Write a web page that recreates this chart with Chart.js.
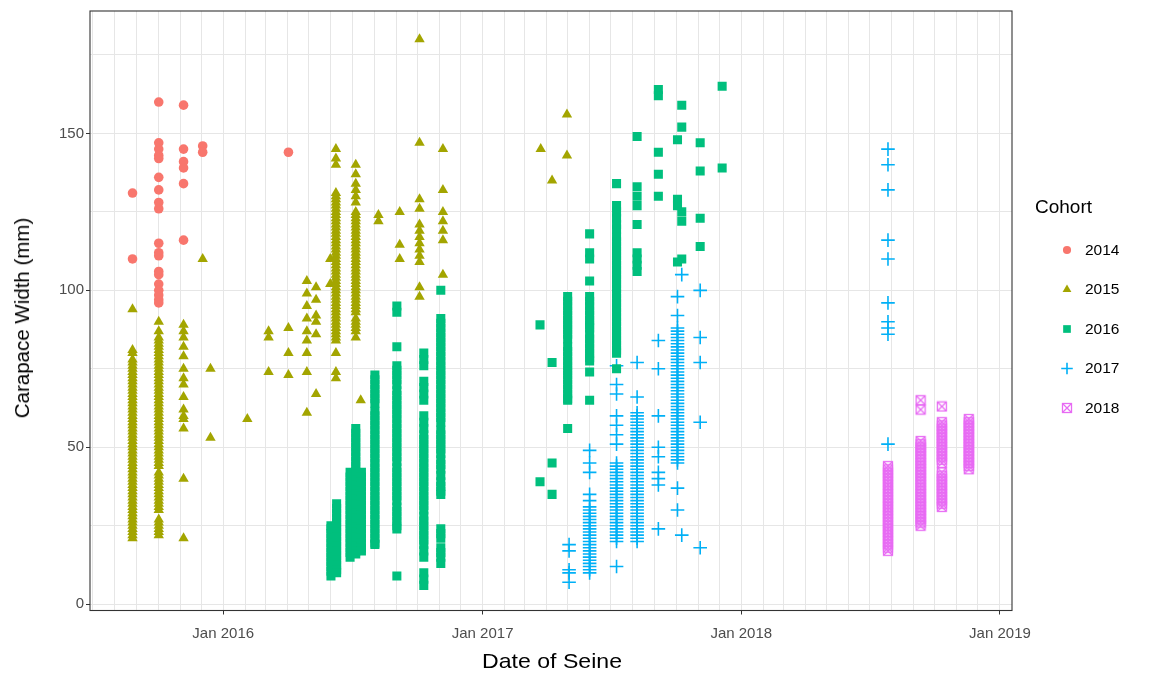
<!DOCTYPE html>
<html>
<head>
<meta charset="utf-8">
<script src="https://cdn.jsdelivr.net/npm/chart.js@4.4.0/dist/chart.umd.min.js"></script>
<style>
html,body{margin:0;padding:0;background:#ffffff;}
#wrap{position:relative;width:1157px;height:681px;font-family:"Liberation Sans",Arial,sans-serif;}
#c{position:absolute;left:0;top:0;}
#ytitle{position:absolute;left:22px;top:318px;transform:translate(-50%,-50%) rotate(-90deg);white-space:nowrap;font-size:20.5px;color:#000;}
#xtitle{position:absolute;left:552px;top:661px;transform:translate(-50%,-50%) scaleX(1.1);white-space:nowrap;font-size:21px;color:#000;}
</style>
</head>
<body>
<div id="wrap">
<canvas id="c" width="1157" height="681"></canvas>
<div id="ytitle">Carapace Width (mm)</div>
<div id="xtitle">Date of Seine</div>
</div>
<script>
// ---------------- DATA ----------------
const cohortNames = ['2014','2015','2016','2017','2018'];

const dates2014 = ['2015-08-26','2015-10-02','2015-11-06','2015-12-03','2016-04-02'];
const widths2014 = [
  [131,110],
  [160,147,145,143,142,136,132,128,126,115,112,111,106,105,102,100,98.5,97,96],
  [159,145,141,139,134,116],
  [146,144],
  [144]
];

const dates2015 = ['2015-08-26','2015-10-02','2015-11-06','2015-12-03','2015-12-14','2016-02-04','2016-03-05','2016-04-02','2016-04-28','2016-05-11','2016-05-31','2016-06-08','2016-07-06','2016-07-13','2016-08-07','2016-09-06','2016-10-04','2016-11-06','2017-03-24','2017-04-09','2017-04-30'];
const widths2015 = [
  [94,81,80,78,77,76,75,74,73,72,71,70,69,68,67,66,65,64,63,62,61,60,59,58,57,56,55,54,53,52,51,50,49,48,47,46,45,44,43,42,41,40,39,38,37,36,35,34,33,32,31,30,29,28,27,26,25,24,23,22,21],
  [90,87,85,84,83,82,81,80,79,78,77,76,75,74,73,72,71,70,69,68,67,66,65,64,63,62,61,60,59,58,57,56,55,54,53,52,51,50,49,48,47,46,45,44,42,41,40,39,38,37,36,35,34,33,32,31,30,27,26,25,24,23,22],
  [89,87,85,82,79,75,72,70,66,62,60,59,56,40,21],
  [110],
  [75,53],
  [59],
  [87,85,74],
  [88,80,73],
  [103,99,95,91,87,84,80,74,61],
  [101,97,92,90,86,67],
  [110,102],
  [145,142,140,131,130,129,128,127,126,125,124,123,122,121,120,119,118,117,116,115,114,113,112,111,110,109,108,107,106,105,104,103,102,101,100,99,98,97,96,95,94,93,92,91,90,89,88,87,86,85,84,80,74,72],
  [140,137,134,132,130,128,125,124,123,122,121,120,119,118,117,116,115,114,113,112,111,110,109,108,107,106,105,104,103,102,101,100,99,98,97,96,95,94,93,91,90,89,88,87,85],
  [65],
  [124,122],
  [125,114.5,110],
  [180,147,129,126,121,119,117,115,113,111,109,101,98],
  [145,132,125,122,119,116,105],
  [145],
  [135],
  [156,143]
];

const dates2016 = ['2016-06-01','2016-06-09','2016-06-28','2016-07-06','2016-07-14','2016-08-02','2016-09-02','2016-10-10','2016-11-03','2017-03-23','2017-04-09','2017-05-01','2017-06-01','2017-07-09','2017-08-07','2017-09-06','2017-10-03','2017-10-09','2017-11-04','2017-12-05'];
const widths2016 = [
  [25,24,22.5,21,19.5,18,16.5,15,13.5,12,10.5,9],
  [32,30.5,29,27.5,26,24.5,23,21.5,20,18.5,17,15.5,14,12.5,11,10],
  [42,40.5,39,37.5,36,34.5,33,31.5,30,28.5,27,25.5,24,22.5,21,19.5,18,16.5,15],
  [56,54.5,53,51.5,50,48.5,47,45.5,44,42.5,41,39.5,38,36.5,35,33.5,32,30.5,29,27.5,26,24.5,23,21.5,20,18.5,17,16],
  [42,40.5,39,37.5,36,34.5,33,31.5,30,28.5,27,25.5,24,22.5,21,19.5,18,17],
  [73,71.5,70,68.5,67,65.5,64,61.5,60,58.5,57,55.5,54,52.5,51,49.5,48,46.5,45,43.5,42,40.5,39,37.5,36,34.5,33,31.5,30,28.5,27,25.5,24,22.5,21,19.5,19],
  [95,93,82,76,74.5,73,71.5,70,68,66.5,65,63.5,62,60.5,59,57.5,56,54.5,53,51.5,50,48.5,47,45.5,43.5,42,40.5,39,37.5,36,34.5,33,31,29.5,28,26.5,25,24,9],
  [80,78,76,71,69,67,65,60,58,56,54,52.5,51,49.5,48,46.5,45,43.5,42,40.5,39,37.5,36,34.5,33,31.5,30,28,26.5,25,23.5,22,20.5,19,17,15,10,8,6],
  [100,91,89.5,88,86.5,85,83.5,82,80.5,79,77.5,76,74.5,73,71.5,70,68.5,67,65.5,64,62.5,61,59.5,58,55.5,54,52.5,51,49.5,48,46,44.5,43,41,39,37.5,36,35,24,22.5,21,18,16.5,15,13],
  [89,39],
  [77,45,35],
  [98,96.5,95,93.5,92,90.5,89,87.5,86,84.5,82,80.5,79,77.5,76,74.5,73,71.5,70,68.5,67,65.5,65,56],
  [118,112,110,103,98,96.5,95,93.5,92,90.5,89,88,86,84.5,83,81.5,80,78.5,77.5,74,65],
  [134,127,125,123,121,119.5,117,115.5,114,112.5,111,109.5,108,106.5,105,103.5,102,100.5,99,97.5,96,94.5,93,91.5,90,88.5,87,85.5,84,82.5,81,80,75],
  [149,133,130,127,121,112,110,108,106],
  [164,162,144,137,130],
  [148,129,127,109],
  [159,152,125,122,110],
  [147,138,123,114],
  [165,139]
];

const dates2017 = ['2017-05-03','2017-06-01','2017-07-09','2017-08-07','2017-09-06','2017-10-03','2017-10-09','2017-11-04','2018-07-27'];
const widths2017 = [
  [19,17,11,10,7],
  [49,45,42,35,33,31,30,29,28,27,26,25,24,23,22,21,20,19,18,17,16,15,14,13,12,11,10],
  [76,70,67,60,57,54,51,45,44,43,42,41,40,39,38,37,36,35,34,33,32,31,30,29,28,27,26,25,24,23,22,21,20,12],
  [77,66,61,60,59,58,57,56,55,54,53,52,51,50,49,48,47,46,45,44,43,42,41,40,39,38,37,36,35,34,33,32,31,30,29,28,27,26,25,24,23,22,21,20],
  [84,75,60,50,47,42,40,38,24],
  [98,92,88,87,86,85,84,83,82,81,80,79,78,77,76,75,74,73,72,71,70,69,68,67,66,65,64,63,62,61,60,59,58,57,56,55,54,53,52,51,50,49,48,47,46,45,37,30],
  [105,22],
  [100,85,77,58,18],
  [145,140,132,116,110,96,90,88,86,51]
];

const dates2018 = ['2018-07-27','2018-09-11','2018-10-11','2018-11-18'];
const widths2018 = [
  [44,43,42,41,40,39,38,37,36,35,34,33,32,31,30,29,28,27,26,25,24,23,22,21,20,19,18,17],
  [65,62,52,51,50,49,48,47,46,45,44,43,42,41,40,39,38,37,36,35,34,33,32,31,30,29,28,27,26,25],
  [63,58,57,56,55,54,53,52,51,50,49,48,47,46,45,42,41,40,39,38,37,36,35,34,33,32,31],
  [59,58,57,56,55,54,53,52,51,50,49,48,47,46,45,44,43]
];

const xTickDates  = ['2016-01-01','2017-01-01','2018-01-01','2019-01-01'];
const xTickLabels = ['Jan 2016','Jan 2017','Jan 2018','Jan 2019'];
const yTickValues = [0,50,100,150];
const yTickLabels = ['0','50','100','150'];
const xRange = ['2015-06-27','2019-01-18'];
const yRange = [-2,189];

// ---------------- BUILD ----------------
const FONT = '"Liberation Sans", Arial, sans-serif';
const t = s => Date.parse(s);

function toPoints(dates, widths){
  const pts = [];
  dates.forEach((d,i)=>widths[i].forEach(w=>pts.push({x:t(d), y:w})));
  return pts;
}

function boxCross(color){
  const c = document.createElement('canvas');
  c.width = 12; c.height = 12;
  const g = c.getContext('2d');
  g.strokeStyle = color; g.lineWidth = 1.3;
  g.strokeRect(1.5,1.5,9,9);
  g.beginPath();
  g.moveTo(1.5,1.5); g.lineTo(10.5,10.5);
  g.moveTo(10.5,1.5); g.lineTo(1.5,10.5);
  g.stroke();
  return c;
}

const colors = ['#F8766D','#A3A500','#00BF7D','#00B0F6','#E76BF3'];
const styles = [
  {pointStyle:'circle',   pointRadius:4.8, pointBorderWidth:0},
  {pointStyle:'triangle', pointRadius:6,   pointBorderWidth:0},
  {pointStyle:'rect',     pointRadius:6.4, pointBorderWidth:0},
  {pointStyle:'cross',    pointRadius:6.8, pointBorderWidth:1.6},
  {pointStyle:boxCross(colors[4]), pointRadius:5, pointBorderWidth:0}
];
const allDates = [dates2014,dates2015,dates2016,dates2017,dates2018];
const allWidths = [widths2014,widths2015,widths2016,widths2017,widths2018];

const datasets = cohortNames.map((name,i)=>Object.assign({
  label:name,
  data:toPoints(allDates[i], allWidths[i]),
  backgroundColor:colors[i],
  borderColor:colors[i],
  pointBackgroundColor:colors[i],
  pointBorderColor:colors[i],
  pointHoverRadius:0,
  showLine:false
}, styles[i]));

const xMin = t(xRange[0]), xMax = t(xRange[1]);
const xMajor = xTickDates.map(t);
const monthTicks = [];
for(let y=2015;y<=2019;y++){ for(let m=0;m<12;m++){ const v=Date.UTC(y,m,1); if(v>=xMin && v<=xMax) monthTicks.push(v);} }

const frame = {
  id:'frame',
  afterDatasetsDraw(chart){
    const a = chart.chartArea, c = chart.ctx;
    c.save();
    c.strokeStyle = '#333333'; c.lineWidth = 1.1;
    c.strokeRect(a.left, a.top, a.right-a.left, a.bottom-a.top);
    c.restore();
  }
};

const legendPlugin = {
  id:'ggLegend',
  afterDraw(chart){
    const c = chart.ctx;
    c.save();
    c.fillStyle = '#000'; c.textBaseline = 'middle'; c.textAlign = 'left';
    c.font = '19px ' + FONT;
    c.fillText('Cohort', 1035, 208);
    const ys = [250,289.5,329,368.5,408];
    cohortNames.forEach((n,i)=>{
      c.fillStyle = colors[i]; c.strokeStyle = colors[i];
      c.lineWidth = styles[i].pointBorderWidth || 0;
      Chart.helpers.drawPoint(c, {pointStyle:styles[i].pointStyle, radius:styles[i].pointRadius*0.85, rotation:0, borderWidth:styles[i].pointBorderWidth}, 1067, ys[i]);
      c.fillStyle = '#000';
      c.font = '15.5px ' + FONT;
      c.fillText(n, 1085, ys[i]+0.5);
    });
    c.restore();
  }
};

new Chart(document.getElementById('c'), {
  type:'scatter',
  data:{datasets},
  options:{
    responsive:false, animation:false, devicePixelRatio:1, events:[],
    layout:{padding:{top:8,right:145,left:0,bottom:0}},
    plugins:{legend:{display:false}, tooltip:{enabled:false}},
    scales:{
      x:{
        type:'linear', min:xMin, max:xMax,
        afterFit(s){ s.height = 70.5; },
        afterBuildTicks(s){ s.ticks = monthTicks.map(v=>({value:v})); },
        ticks:{autoSkip:false, maxRotation:0, minRotation:0, padding:10, color:'#4D4D4D', font:{family:FONT,size:15},
          callback(v){ const i = xMajor.indexOf(v); return i>=0 ? xTickLabels[i] : ''; }},
        grid:{color:'#E6E6E6', lineWidth:1, drawTicks:true, tickLength:4,
          tickColor(ctx){ return (ctx.tick && xMajor.indexOf(ctx.tick.value)>=0) ? '#333333' : 'rgba(0,0,0,0)'; }},
        border:{display:false}
      },
      y:{
        type:'linear', min:yRange[0], max:yRange[1],
        afterFit(s){ s.width = 90; },
        afterBuildTicks(s){ s.ticks = [0,25,50,75,100,125,150,175].map(v=>({value:v})); },
        ticks:{autoSkip:false, padding:2, color:'#4D4D4D', font:{family:FONT,size:15},
          callback(v){ const i = yTickValues.indexOf(v); return i>=0 ? yTickLabels[i] : ''; }},
        grid:{color:'#E6E6E6', lineWidth:1, drawTicks:true, tickLength:4,
          tickColor(ctx){ return (ctx.tick && yTickValues.indexOf(ctx.tick.value)>=0) ? '#333333' : 'rgba(0,0,0,0)'; }},
        border:{display:false}
      }
    }
  },
  plugins:[frame, legendPlugin]
});
</script>
</body>
</html>
